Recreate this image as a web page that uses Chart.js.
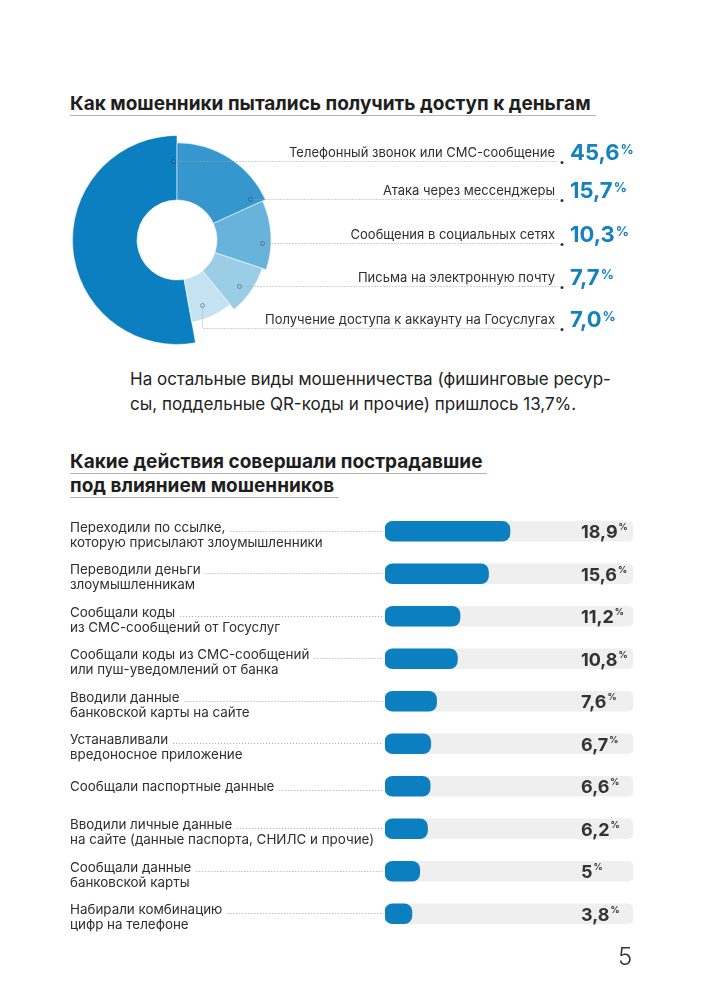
<!DOCTYPE html>
<html lang="ru">
<head>
<meta charset="utf-8">
<title>Мошенничество</title>
<script src="https://cdn.jsdelivr.net/npm/chart.js@4.4.1/dist/chart.umd.min.js"></script>
<style>
  html, body { margin: 0; padding: 0; background: #fff; }
  body { position: relative; width: 704px; height: 999px; overflow: hidden; font-family: Inter, "Noto Sans", sans-serif; color: #222; }
  .title { position: absolute; left: 70px; font-size: 19px; font-weight: 700; line-height: 23px; color: #1e1e1e; }
  .title span { display: block; width: fit-content; padding-right: 5px; border-bottom: 1px solid #b3b3b3; }
  .note { position: absolute; left: 130px; top: 367px; font-size: 17px; line-height: 25px; color: #222; }
  .page { position: absolute; left: 618px; top: 942px; font-size: 24px; line-height: 29px; font-weight: 300; color: #333; }
  canvas { position: absolute; left: 0; }
</style>
</head>
<body>
<div class="title" style="top:92px"><span>Как мошенники пытались получить доступ к деньгам</span></div>
<div class="note">На остальные виды мошенничества (фишинговые ресур-<br>сы, поддельные QR-коды и прочие) пришлось 13,7%.</div>
<div class="title" style="top:450px"><span>Какие действия совершали пострадавшие</span><span>под влиянием мошенников</span></div>
<canvas id="donut-chart" width="704" height="240" style="top:120px"></canvas>
<canvas id="bar-chart" width="704" height="445" style="top:500px"></canvas>
<div class="page">5</div>

<script>
// How fraudsters tried to get to the money (share of cases, %)
const methodLabels = [
    'Телефонный звонок или СМС-сообщение',
    'Атака через мессенджеры',
    'Сообщения в социальных сетях',
    'Письма на электронную почту',
    'Получение доступа к аккаунту на Госуслугах'
];
const methodValues = [45.6, 15.7, 10.3, 7.7, 7.0];
const methodColors = ['#0b7fc0', '#3597cd', '#67b3db', '#9ccde7', '#c4e2f1'];

// What victims did under the influence of fraudsters (%)
const actionLabels = [
    ['Переходили по ссылке,', 'которую присылают злоумышленники'],
    ['Переводили деньги', 'злоумышленникам'],
    ['Сообщали коды', 'из СМС-сообщений от Госуслуг'],
    ['Сообщали коды из СМС-сообщений', 'или пуш-уведомлений от банка'],
    ['Вводили данные', 'банковской карты на сайте'],
    ['Устанавливали', 'вредоносное приложение'],
    ['Сообщали паспортные данные'],
    ['Вводили личные данные', 'на сайте (данные паспорта, СНИЛС и прочие)'],
    ['Сообщали данные', 'банковской карты'],
    ['Набирали комбинацию', 'цифр на телефоне']
];
const actionValues = [18.9, 15.6, 11.2, 10.8, 7.6, 6.7, 6.6, 6.2, 5, 3.8];

// x axis range of the bar chart
const axisMin = -0.35;
const axisMax = 37.85;

const blue = '#0b7fc0';
const textColor = '#2e2e2e';
const leaderColor = '#a3a3a3';
const font = 'Inter, "Noto Sans", sans-serif';

// look of each slice: outer radius share, where the callout marker sits, how far the leader drops
const sliceRadius = [1, 0.93, 0.9, 0.86, 0.8];
const markerAngle = [0.985, 0.92, 0.62, 0.55, 0.63];
const markerRadius = [0.76, 0.86, 0.9, 0.86, 0.83];
const leaderDrop = [0, 0, 0, 0, 23];

const methodTotal = methodValues.reduce((a, b) => a + b, 0);

function dottedLine(ctx, points) {
    ctx.save();
    ctx.strokeStyle = leaderColor;
    ctx.lineWidth = 1;
    ctx.setLineDash([1, 2]);
    ctx.beginPath();
    points.forEach((p, i) => i ? ctx.lineTo(p[0], p[1]) : ctx.moveTo(p[0], p[1]));
    ctx.stroke();
    ctx.restore();
}

// every slice gets its own outer radius
const sliceSizes = {
    id: 'sliceSizes',
    afterDatasetUpdate(chart, args) {
        const meta = args.meta;
        const r = meta.controller.outerRadius;
        meta.data.forEach((arc, i) => { arc.outerRadius = r * sliceRadius[i]; });
    }
};

// labels, leaders and percentages on the right of the doughnut
const methodCallouts = {
    id: 'methodCallouts',
    afterDraw(chart) {
        const ctx = chart.ctx;
        const meta = chart.getDatasetMeta(0);
        meta.data.forEach((arc, i) => {
            const p = arc.getProps(['x', 'y', 'startAngle', 'endAngle', 'outerRadius']);
            const a = p.startAngle + (p.endAngle - p.startAngle) * markerAngle[i];
            const mx = Math.round(p.x + Math.cos(a) * p.outerRadius * markerRadius[i]) + 0.5;
            const my = Math.round(p.y + Math.sin(a) * p.outerRadius * markerRadius[i]) + 0.5;
            const rowY = my + leaderDrop[i];

            dottedLine(ctx, leaderDrop[i] ? [[mx, my], [mx, rowY], [558, rowY]] : [[mx, my], [558, rowY]]);

            ctx.save();
            ctx.beginPath();
            ctx.arc(mx, my, 2, 0, Math.PI * 2);
            ctx.strokeStyle = 'rgba(40,60,80,0.45)';
            ctx.lineWidth = 1;
            ctx.stroke();

            ctx.beginPath();
            ctx.arc(562, rowY + 1, 1.5, 0, Math.PI * 2);
            ctx.fillStyle = '#333';
            ctx.fill();

            ctx.fillStyle = textColor;
            ctx.font = '13px ' + font;
            ctx.textAlign = 'right';
            ctx.textBaseline = 'alphabetic';
            ctx.fillText(methodLabels[i], 555, rowY - 5);

            const valueText = methodValues[i].toFixed(1).replace('.', ',');
            ctx.fillStyle = '#1581c1';
            ctx.textAlign = 'left';
            ctx.font = 'bold 22px ' + font;
            ctx.fillText(valueText, 570, rowY - 2);
            const w = ctx.measureText(valueText).width;
            ctx.font = 'bold 13px ' + font;
            ctx.textBaseline = 'top';
            ctx.fillText('%', 570 + w + 1, rowY - 18);
            ctx.restore();
        });
    }
};

new Chart(document.getElementById('donut-chart'), {
    type: 'doughnut',
    data: {
        labels: methodLabels,
        datasets: [{
            data: methodValues,
            backgroundColor: methodColors,
            borderColor: 'rgba(255,255,255,0.55)',
            borderWidth: 1
        }]
    },
    options: {
        responsive: false,
        animation: false,
        events: [],
        cutout: 40,
        rotation: -methodValues[0] / methodTotal * 360,
        layout: { padding: { left: 72, right: 422, top: 15, bottom: 15 } },
        plugins: { legend: { display: false }, tooltip: { enabled: false } }
    },
    plugins: [sliceSizes, methodCallouts]
});

// category labels with leaders, and the value at the end of each track
const actionText = {
    id: 'actionText',
    afterDraw(chart) {
        const ctx = chart.ctx;
        const bars = chart.getDatasetMeta(0).data;
        const left = chart.chartArea.left;
        ctx.save();
        bars.forEach((bar, i) => {
            const c = bar.y;
            const lines = actionLabels[i];
            const first = lines.length > 1 ? c + 0.5 : c + 5;
            ctx.fillStyle = textColor;
            ctx.font = '13.4px ' + font;
            ctx.textAlign = 'left';
            ctx.textBaseline = 'alphabetic';
            lines.forEach((t, k) => ctx.fillText(t, 70, first + k * 15));
            const end = 70 + ctx.measureText(lines[0]).width + 5;
            const ly = Math.round(first - 1) + 0.5;
            dottedLine(ctx, [[end, ly], [left - 2, ly]]);

            const valueText = Number.isInteger(actionValues[i]) ? String(actionValues[i]) : actionValues[i].toFixed(1).replace('.', ',');
            ctx.fillStyle = '#333';
            ctx.font = 'bold 18px ' + font;
            ctx.fillText(valueText, 581, c + 7);
            const w = ctx.measureText(valueText).width;
            ctx.font = 'bold 9px ' + font;
            ctx.textBaseline = 'top';
            ctx.fillText('%', 581 + w + 1, c - 8);
        });
        ctx.restore();
    }
};

new Chart(document.getElementById('bar-chart'), {
    type: 'bar',
    data: {
        labels: actionLabels,
        datasets: [
            {
                data: actionValues,
                backgroundColor: blue,
                borderRadius: 8,
                borderSkipped: false,
                barThickness: 20,
                grouped: false,
                base: axisMin,
                order: 0
            },
            {
                data: actionValues.map(() => axisMax), // grey track behind each bar
                backgroundColor: '#efefef',
                borderRadius: 5,
                borderSkipped: false,
                barThickness: 20,
                grouped: false,
                base: axisMin,
                order: 1
            }
        ]
    },
    options: {
        indexAxis: 'y',
        responsive: false,
        animation: false,
        events: [],
        layout: { padding: { left: 385, right: 71, top: 10, bottom: 10 } },
        plugins: { legend: { display: false }, tooltip: { enabled: false } },
        scales: {
            x: { display: false, min: axisMin, max: axisMax },
            y: { display: false }
        }
    },
    plugins: [actionText]
});
</script>
</body>
</html>
